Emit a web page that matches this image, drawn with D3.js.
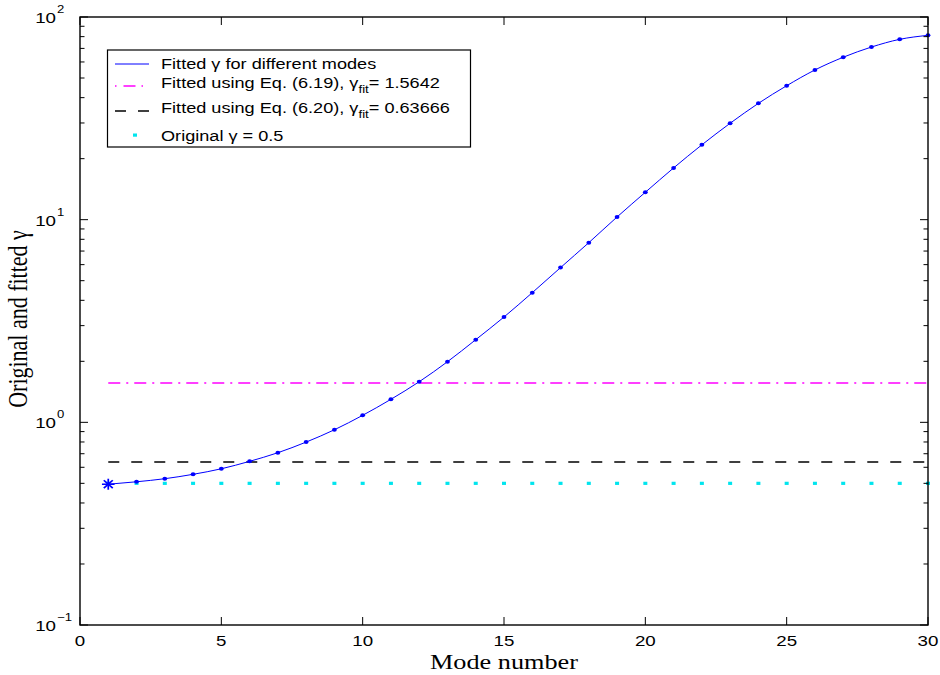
<!DOCTYPE html>
<html>
<head>
<meta charset="utf-8">
<script src="https://d3js.org/d3.v7.min.js"></script>
<style>
  html, body { margin: 0; padding: 0; background: #fff; }
  svg { display: block; }
</style>
</head>
<body>
<svg id="chart" width="940" height="675"></svg>
<script>
// Mode index and fitted gamma for each mode
const modes = d3.range(1, 31);
const fittedGamma = [0.495, 0.509, 0.527, 0.554, 0.590, 0.642, 0.708, 0.799, 0.919, 1.083,
                     1.299, 1.586, 1.991, 2.557, 3.309, 4.363, 5.80, 7.70, 10.31, 13.65,
                     18.0, 23.4, 29.9, 37.5, 45.8, 54.8, 63.3, 71.1, 77.6, 81.2];
const gammaEq619 = 1.5642;
const gammaEq620 = 0.63666;
const gammaOriginal = 0.5;
const xTicks = [0, 5, 10, 15, 20, 25, 30];
const yDecades = [-1, 0, 1, 2];

const svg = d3.select("#chart");
const plotL = 80, plotR = 928, plotT = 17, plotB = 625;
const SX = 1.25; // horizontal stretch of the figure's lettering

const x = d3.scaleLinear().domain([0, 30]).range([plotL, plotR]);
const y = d3.scaleLog().domain([0.1, 100]).range([plotB, plotT]);

const sans = "'Liberation Sans', Arial, Helvetica, sans-serif";
const serif = "'Liberation Serif', 'Times New Roman', serif";

// Horizontally stretched text anchored at (px, py)
const wideText = (parent, px, py, anchor, family, size, sx = SX) =>
  parent.append("g").attr("transform", `translate(${px},${py}) scale(${sx},1)`)
    .append("text").attr("text-anchor", anchor)
    .attr("font-family", family).attr("font-size", size);

// Reference lines
const lineH = (val, color, dash, w) => svg.append("line")
  .attr("x1", x(1)).attr("x2", x(30))
  .attr("y1", y(val)).attr("y2", y(val))
  .attr("stroke", color).attr("stroke-width", w)
  .attr("stroke-dasharray", dash);

lineH(gammaEq619, "#ff00ff", "12,6,2,6", 1.5);
lineH(gammaEq620, "#000000", "11,12", 1.6);

// Original gamma: cyan point markers
svg.append("g").selectAll("rect").data(modes).join("rect")
  .attr("x", d => x(d) - 2).attr("y", y(gammaOriginal) - 1.6)
  .attr("width", 4).attr("height", 3.2)
  .attr("fill", "#00e5ee");

// Fitted gamma curve
const pts = modes.map((m, i) => [m, fittedGamma[i]]);
svg.append("path")
  .datum(pts)
  .attr("fill", "none")
  .attr("stroke", "#0000ff")
  .attr("stroke-width", 1)
  .attr("d", d3.line().x(d => x(d[0])).y(d => y(d[1])).curve(d3.curveMonotoneX));

svg.append("g").selectAll("ellipse").data(pts.slice(1)).join("ellipse")
  .attr("cx", d => x(d[0])).attr("cy", d => y(d[1]))
  .attr("rx", 2.4).attr("ry", 2).attr("fill", "#0000ff");

// Asterisk marker at the first mode
const star = svg.append("g")
  .attr("transform", `translate(${x(pts[0][0])},${y(pts[0][1])}) scale(1.15,1)`)
  .attr("stroke", "#0000ff").attr("stroke-width", 1.5);
[0, 45, 90, 135].forEach(a => {
  const r = 5.5, t = a * Math.PI / 180;
  star.append("line")
    .attr("x1", -r * Math.cos(t)).attr("y1", -r * Math.sin(t))
    .attr("x2", r * Math.cos(t)).attr("y2", r * Math.sin(t));
});

// Axes box
svg.append("rect")
  .attr("x", plotL).attr("y", plotT)
  .attr("width", plotR - plotL).attr("height", plotB - plotT)
  .attr("fill", "none").attr("stroke", "#000").attr("stroke-width", 1.4);

// X ticks (inward, bottom and top)
const axG = svg.append("g").attr("stroke", "#000").attr("stroke-width", 1);
xTicks.forEach(t => {
  axG.append("line").attr("x1", x(t)).attr("x2", x(t)).attr("y1", plotB).attr("y2", plotB - 8);
  axG.append("line").attr("x1", x(t)).attr("x2", x(t)).attr("y1", plotT).attr("y2", plotT + 8);
  wideText(svg, x(t), 646, "middle", sans, 15).text(t);
});

// Y ticks: decades and minor ticks, both sides
yDecades.forEach(p => {
  const v = Math.pow(10, p);
  axG.append("line").attr("x1", plotL).attr("x2", plotL + 8).attr("y1", y(v)).attr("y2", y(v));
  axG.append("line").attr("x1", plotR).attr("x2", plotR - 8).attr("y1", y(v)).attr("y2", y(v));
  if (p < 2) {
    for (let k = 2; k <= 9; k++) {
      const mv = k * v;
      axG.append("line").attr("x1", plotL).attr("x2", plotL + 4.5).attr("y1", y(mv)).attr("y2", y(mv));
      axG.append("line").attr("x1", plotR).attr("x2", plotR - 4.5).attr("y1", y(mv)).attr("y2", y(mv));
    }
  }
  wideText(svg, 56, y(v) + 6, "end", sans, 15).text("10");
  wideText(svg, 57, y(v) - 4, "start", sans, 10.5).text(p < 0 ? "\u22121" : p);
});

// Axis titles
wideText(svg, (plotL + plotR) / 2, 669, "middle", serif, 21).text("Mode number");
svg.append("text")
  .attr("transform", `translate(27,${(plotT + plotB) / 2 - 2}) scale(1.2,1) rotate(-90)`)
  .attr("text-anchor", "middle")
  .attr("font-family", serif).attr("font-size", 22)
  .text("Original and fitted \u03b3");

// Legend
const lg = svg.append("g");
lg.append("rect").attr("x", 107.5).attr("y", 50).attr("width", 363).attr("height", 97)
  .attr("fill", "#fff").attr("stroke", "#000").attr("stroke-width", 1.2);

const sx1 = 115, sx2 = 149, tx = 161;
lg.append("line").attr("x1", sx1).attr("x2", sx2).attr("y1", 64).attr("y2", 64)
  .attr("stroke", "#0000ff").attr("stroke-width", 1);
lg.append("line").attr("x1", sx1).attr("x2", sx2).attr("y1", 86).attr("y2", 86)
  .attr("stroke", "#ff00ff").attr("stroke-width", 1.5).attr("stroke-dasharray", "1.5,7,12,6");
lg.append("line").attr("x1", sx1).attr("x2", sx2).attr("y1", 111).attr("y2", 111)
  .attr("stroke", "#000").attr("stroke-width", 1.6).attr("stroke-dasharray", "11,12");
lg.append("rect").attr("x", 133).attr("y", 133.5).attr("width", 4).attr("height", 3.2)
  .attr("fill", "#00e5ee");

const legText = (yy, parts) => {
  const t = wideText(lg, tx, yy, "start", sans, 15, 1.21);
  parts.forEach(p => {
    const s = t.append("tspan").text(p.text);
    if (p.dy) s.attr("dy", p.dy);
    if (p.size) s.attr("font-size", p.size);
  });
};
legText(68.5, [{ text: "Fitted \u03b3 for different modes" }]);
legText(87.5, [{ text: "Fitted using Eq. (6.19), \u03b3" }, { text: "fit", dy: 5, size: 11 }, { text: "= 1.5642", dy: -5 }]);
legText(112.5, [{ text: "Fitted using Eq. (6.20), \u03b3" }, { text: "fit", dy: 5, size: 11 }, { text: "= 0.63666", dy: -5 }]);
legText(140.5, [{ text: "Original \u03b3 = 0.5" }]);
</script>
</body>
</html>
